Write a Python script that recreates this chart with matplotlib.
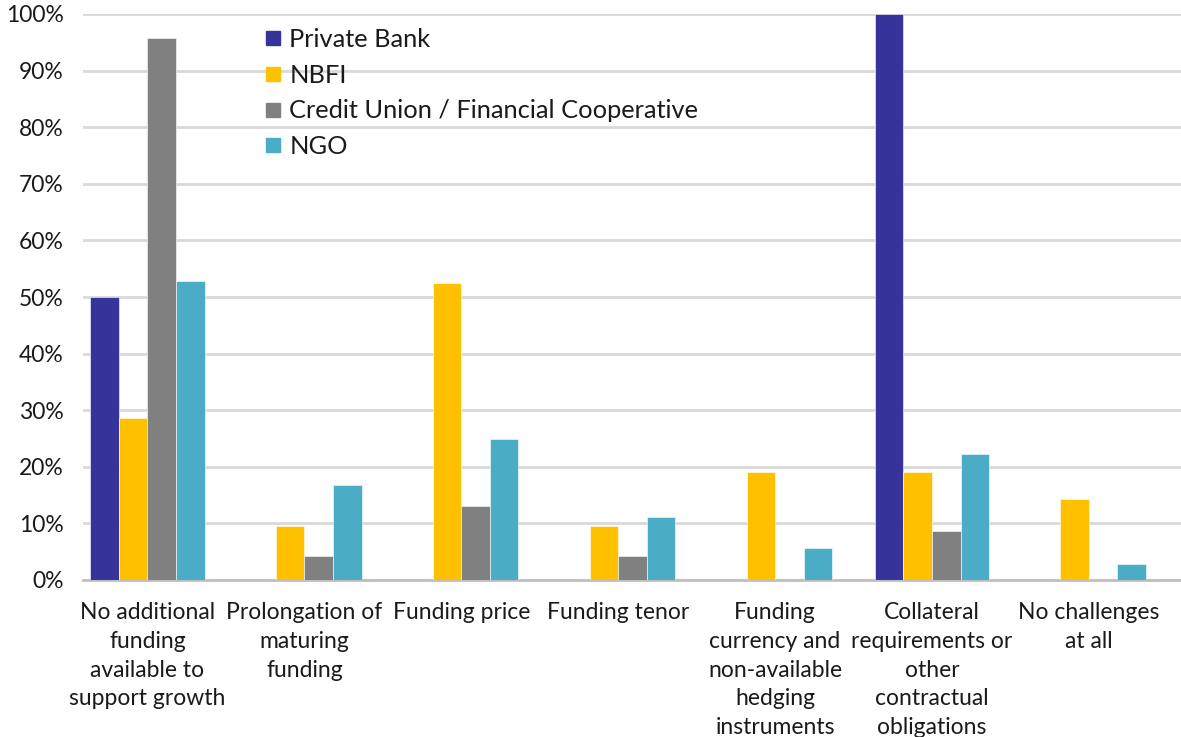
import matplotlib
matplotlib.use("Agg")
import matplotlib.pyplot as plt
import numpy as np
from matplotlib.ticker import PercentFormatter
from matplotlib.lines import Line2D

categories = ["No additional\nfunding\navailable to\nsupport growth",
              "Prolongation of\nmaturing\nfunding",
              "Funding price",
              "Funding tenor",
              "Funding\ncurrency and\nnon-available\nhedging\ninstruments",
              "Collateral\nrequirements or\nother\ncontractual\nobligations",
              "No challenges\nat all"]
series_names = ["Private Bank", "NBFI", "Credit Union / Financial Cooperative", "NGO"]
private_bank = [50.0, 0, 0, 0, 0, 100.0, 0]
nbfi = [28.6, 9.5, 52.4, 9.5, 19.0, 19.0, 14.3]
credit_union = [95.7, 4.3, 13.0, 4.3, 0, 8.7, 0]
ngo = [52.8, 16.7, 25.0, 11.1, 5.6, 22.2, 2.8]
colors = ["#36349A", "#FFC000", "#808080", "#4BACC6"]

plt.rcParams['font.family'] = ['Lato', 'DejaVu Sans']
fig = plt.figure(figsize=(11.81, 7.37), dpi=100)
ax = fig.add_axes([83/1181, 1-580/737, 1-83/1181, (580-14)/737])

x = np.arange(len(categories))
w = 0.182
all_series = [private_bank, nbfi, credit_union, ngo]
for i, (vals, c) in enumerate(zip(all_series, colors)):
    ax.bar(x + (i - 1.5) * w, vals, width=w, color=c, edgecolor='white', linewidth=0.4, zorder=3)

ax.set_xlim(-0.411, 6.587)
ax.set_ylim(0, 100)
ax.set_yticks(np.arange(0, 101, 10))
ax.yaxis.set_major_formatter(PercentFormatter(decimals=0))
ax.grid(axis='y', color='#D9D9D9', linewidth=2, zorder=0)
ax.set_axisbelow(True)
for s in ['top', 'right', 'left']:
    ax.spines[s].set_visible(False)
ax.spines['bottom'].set_color('#BFBFBF')
ax.spines['bottom'].set_linewidth(2)
ax.set_xticks(x)
ax.set_xticklabels(categories, fontsize=16.5, linespacing=1.47, color='#1a1a1a')
ax.tick_params(axis='x', length=0, pad=15.5)
ax.tick_params(axis='y', length=0, pad=14, labelsize=16.5, labelcolor='#1a1a1a')

handles = [Line2D([0], [0], marker='s', linestyle='none', markersize=10, color=c) for c in colors]
leg = ax.legend(handles, series_names, loc='upper left', bbox_to_anchor=(264/1181, 1-28/737),
                bbox_transform=fig.transFigure, frameon=False, prop={'size': 18.3},
                handlelength=0.7, handletextpad=0.3, labelspacing=0.5, borderaxespad=0, borderpad=0)
for t in leg.get_texts():
    t.set_color('#1a1a1a')

fig.savefig("out.png", dpi=100)
